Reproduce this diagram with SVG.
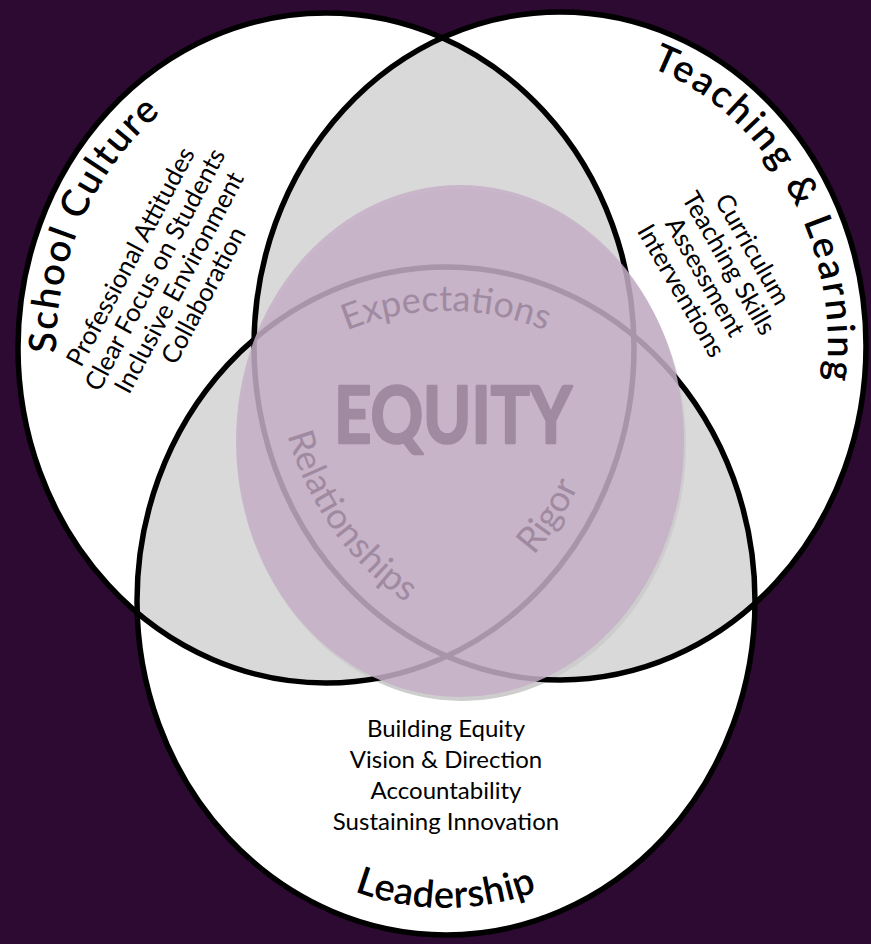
<svg xmlns="http://www.w3.org/2000/svg" width="871" height="944" viewBox="0 0 871 944">
<style>
.ring{fill:none;stroke:#000;stroke-width:5.5}
.title{font-family:Lato,"Liberation Sans",sans-serif;font-size:38px;font-weight:600;fill:#000}
.item{font-family:Lato,"Liberation Sans",sans-serif;font-size:24px;fill:#000;text-anchor:middle}
.rot{font-size:25.5px}
.inner{font-family:Lato,"Liberation Sans",sans-serif;font-size:36px;fill:#a08aa1}
</style>
<defs>
<ellipse id="eL" cx="326" cy="348" rx="308" ry="335"/>
<ellipse id="eR" cx="560" cy="346" rx="306" ry="334"/>
<ellipse id="eB" cx="446" cy="601" rx="309" ry="334"/>
<clipPath id="cR"><use href="#eR"/></clipPath>
<clipPath id="cB"><use href="#eB"/></clipPath>
<path id="pSC" d="M 99.6 509.7 A 270 297 0 0 1 311.9 51.4"/>
<path id="pTL" d="M 548.3 50.3 A 268 296 0 0 1 797.7 482.7"/>
<path id="pLD" d="M 201.8 754.5 A 282 307 0 0 0 690.2 754.5"/>
<path id="pEX" d="M 235.3 414.6 A 275 290 0 0 1 656.7 414.6"/>
<path id="pRE" d="M 281.2 282.6 A 285 305 0 0 0 550.1 650.8"/>
<path id="pRI" d="M 345.7 652.3 A 283 305 0 0 0 600.6 274.2"/>
</defs>
<rect width="871" height="944" fill="#2d0a31"/>
<g id="fills">
<use href="#eL" fill="#fff"/>
<use href="#eR" fill="#fff"/>
<use href="#eB" fill="#fff"/>
<use href="#eL" fill="#d9d9d9" clip-path="url(#cR)"/>
<use href="#eL" fill="#d9d9d9" clip-path="url(#cB)"/>
<use href="#eR" fill="#d9d9d9" clip-path="url(#cB)"/>
<ellipse cx="462" cy="445" rx="224" ry="256" fill="#cdcdcd"/>
</g>
<g id="school-culture">
<use href="#eL" class="ring"/>
<text class="title" text-anchor="middle" letter-spacing="1.8"><textPath href="#pSC" startOffset="50%">School Culture</textPath></text>
<g transform="translate(167 276) rotate(-62)">
<text class="item rot" x="0" y="-32.5">Professional Attitudes</text>
<text class="item rot" x="0" y="-5">Clear Focus on Students</text>
<text class="item rot" x="0" y="22.5">Inclusive Environment</text>
<text class="item rot" x="0" y="50">Collaboration</text>
</g>
</g>
<g id="teaching-learning">
<use href="#eR" class="ring"/>
<text class="title" text-anchor="middle" letter-spacing="2.6"><textPath href="#pTL" startOffset="50%">Teaching &amp; Learning</textPath></text>
<g transform="translate(717 270) rotate(60)">
<text class="item rot" x="0" y="-32.5">Curriculum</text>
<text class="item rot" x="0" y="-5">Teaching Skills</text>
<text class="item rot" x="0" y="22.5">Assessment</text>
<text class="item rot" x="0" y="50">Interventions</text>
</g>
</g>
<g id="leadership">
<use href="#eB" class="ring"/>
<text class="title" text-anchor="middle" letter-spacing="0.5"><textPath href="#pLD" startOffset="50%">Leadership</textPath></text>
<text class="item" x="446" y="737">Building Equity</text>
<text class="item" x="446" y="768">Vision &amp; Direction</text>
<text class="item" x="446" y="799">Accountability</text>
<text class="item" x="446" y="830">Sustaining Innovation</text>
</g>
<g id="equity">
<ellipse cx="460" cy="441" rx="224" ry="256" fill="#c6afc7" fill-opacity="0.85"/>
<text x="453" y="443" font-family="Lato,'Liberation Sans',sans-serif" font-size="78" font-weight="700" fill="#a08aa1" stroke="#a08aa1" stroke-width="2.5" stroke-linejoin="round" text-anchor="middle" textLength="238" lengthAdjust="spacingAndGlyphs">EQUITY</text>
<text class="inner" text-anchor="middle"><textPath href="#pEX" startOffset="50%">Expectations</textPath></text>
<text class="inner" text-anchor="middle"><textPath href="#pRE" startOffset="50%">Relationships</textPath></text>
<text class="inner" text-anchor="middle"><textPath href="#pRI" startOffset="50%">Rigor</textPath></text>
</g>
<g id="connectors"/>
</svg>
